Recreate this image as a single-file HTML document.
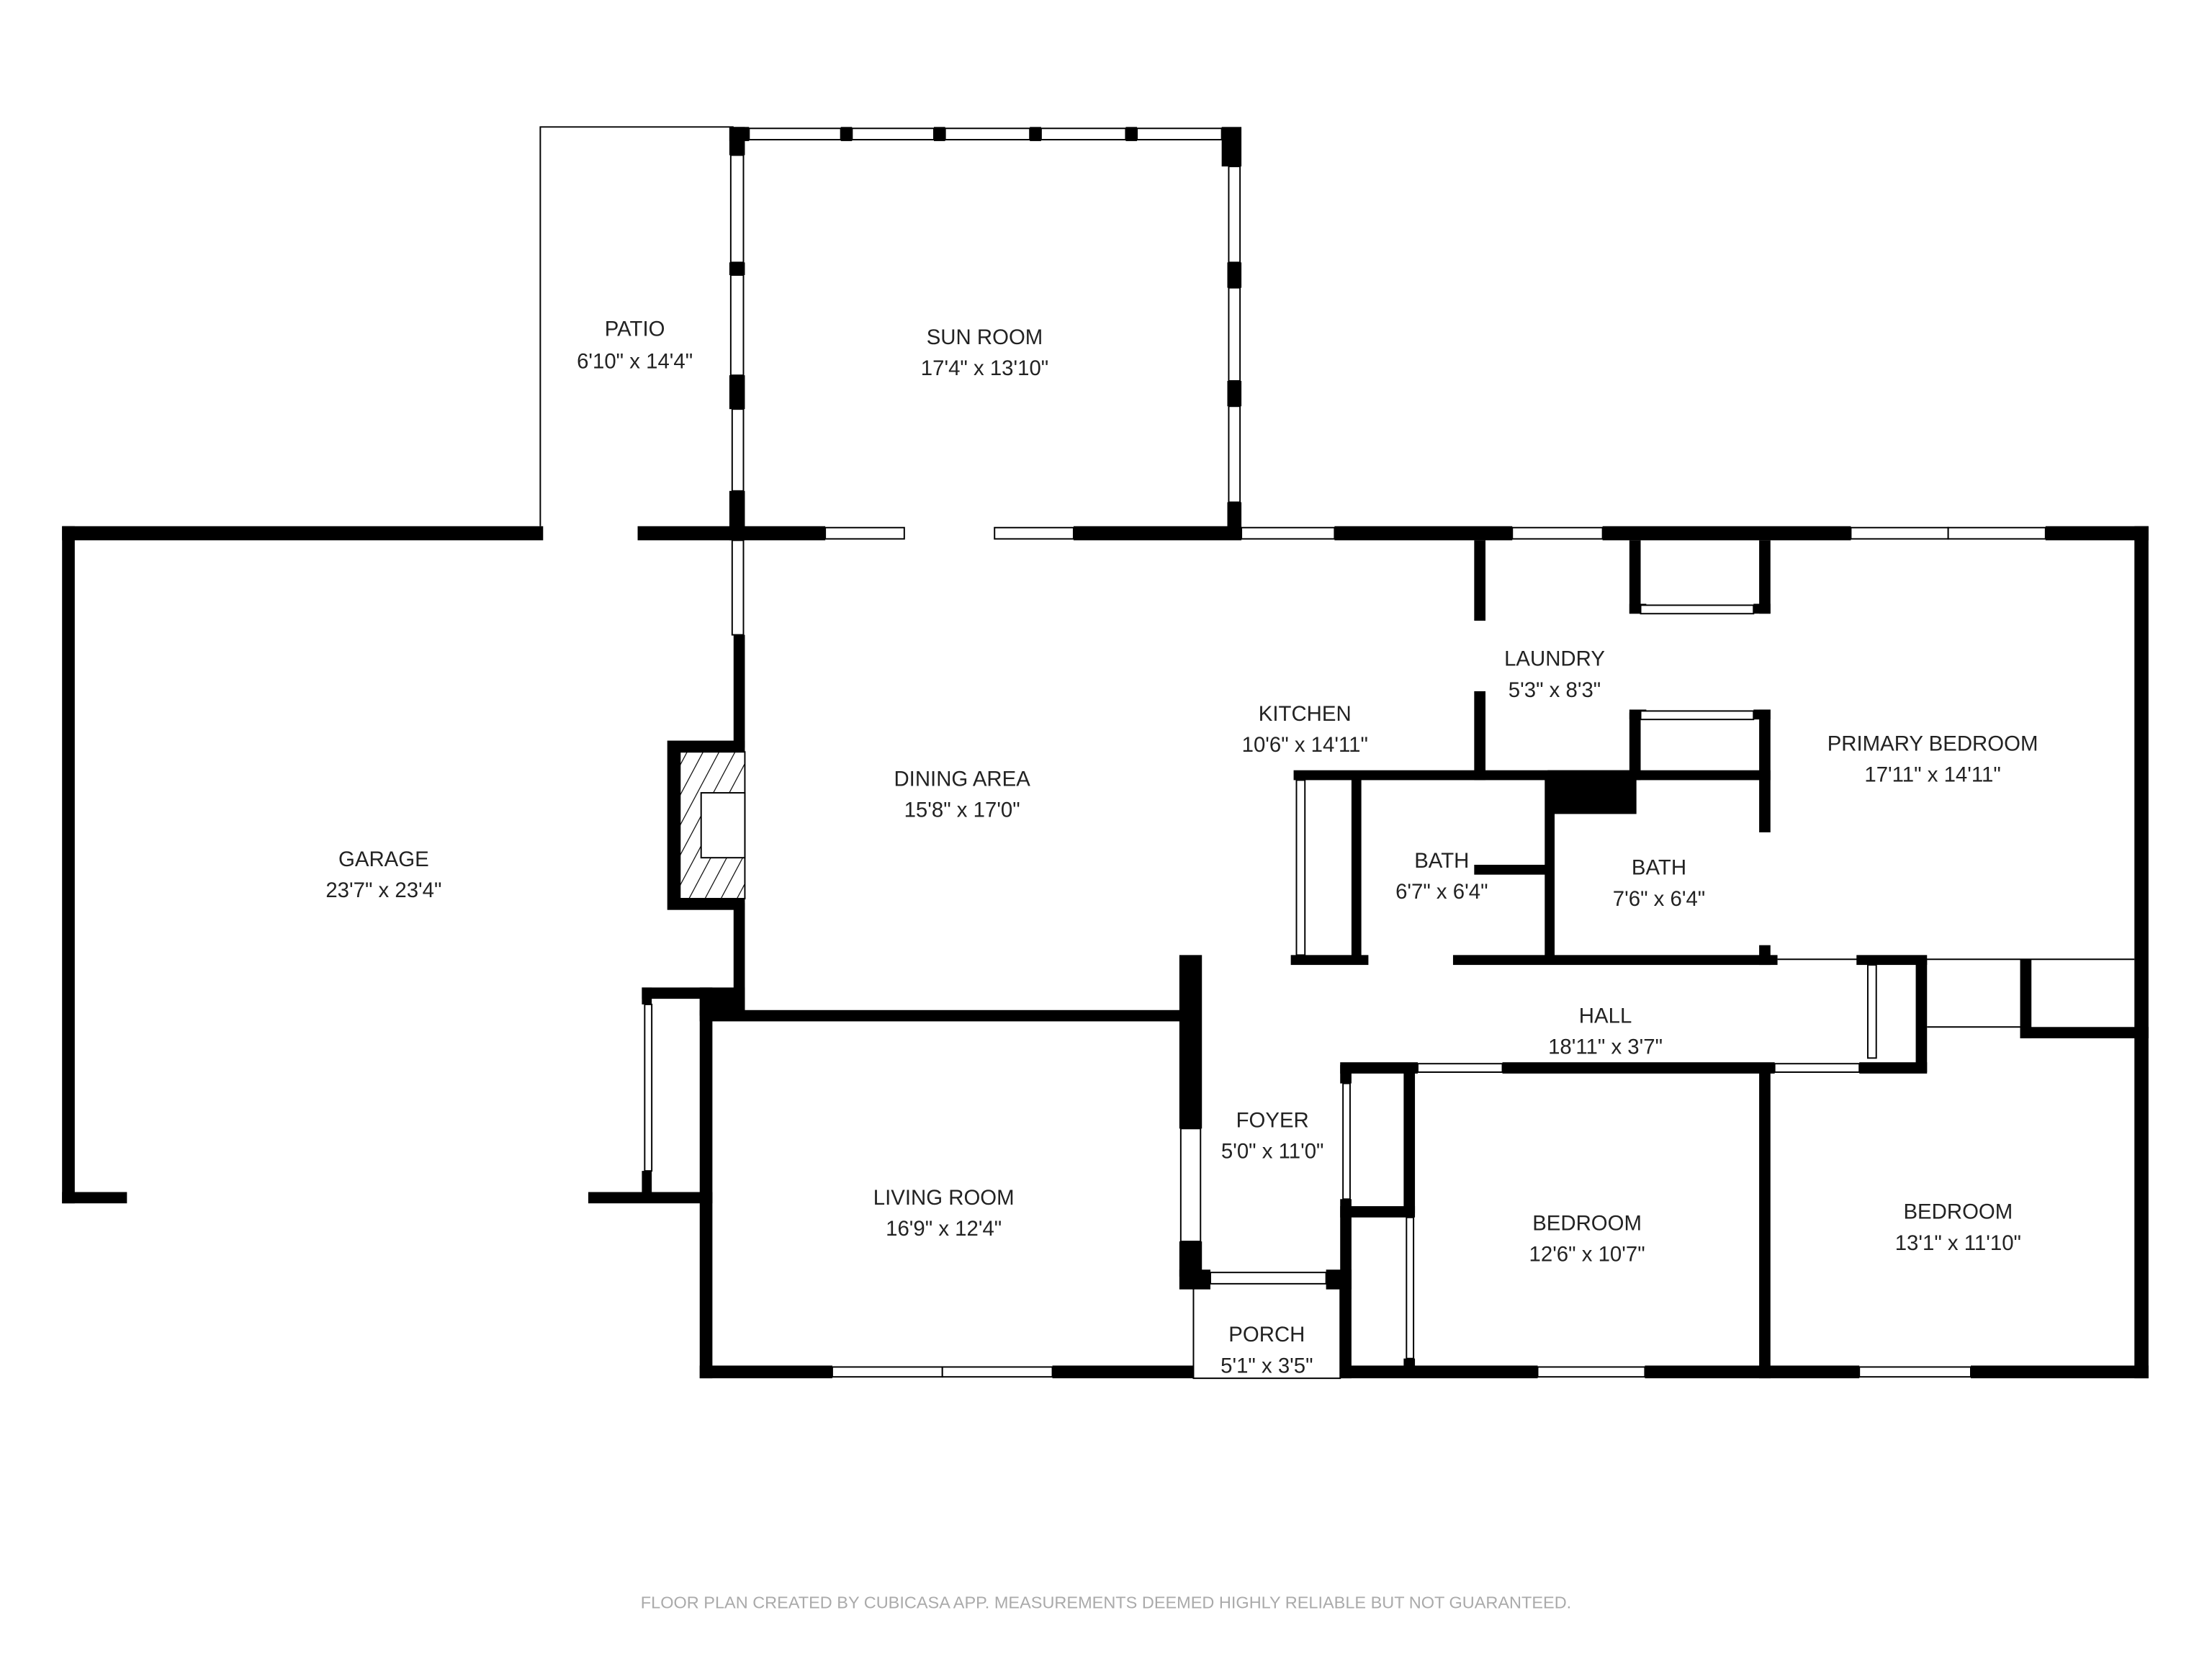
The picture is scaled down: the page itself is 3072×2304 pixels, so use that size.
<!DOCTYPE html>
<html><head><meta charset="utf-8"><style>
html,body{margin:0;padding:0;background:#fff;}
svg{display:block;}
text{font-family:"Liberation Sans",sans-serif;fill:#222;text-anchor:middle;}
</style></head><body>
<svg width="3072" height="2304" viewBox="0 0 1568 1176" xmlns="http://www.w3.org/2000/svg">
<defs>
<pattern id="h" width="10" height="10" patternUnits="userSpaceOnUse" patternTransform="rotate(28)">
<rect width="10" height="10" fill="#fff"/>
<line x1="0" y1="0" x2="0" y2="10" stroke="#000" stroke-width="1.2"/></pattern>
</defs>
<g fill="#000">
<rect x="44" y="373" width="9" height="480"/>
<rect x="44" y="373" width="341" height="10"/>
<rect x="452" y="373" width="76" height="10"/>
<rect x="44" y="845" width="46" height="8"/>
<rect x="417" y="845" width="88" height="8"/>
<rect x="520" y="373" width="65" height="10"/>
<rect x="761" y="373" width="119" height="10"/>
<rect x="946" y="373" width="126" height="10"/>
<rect x="1136" y="373" width="176" height="10"/>
<rect x="1450" y="373" width="73" height="10"/>
<rect x="1513" y="373" width="10" height="604"/>
<rect x="496" y="968" width="94" height="9"/>
<rect x="746" y="968" width="100" height="9"/>
<rect x="950" y="968" width="140" height="9"/>
<rect x="1166" y="968" width="152" height="9"/>
<rect x="1397" y="968" width="126" height="9"/>
<rect x="517" y="90" width="11" height="20"/>
<rect x="517" y="186" width="11" height="9"/>
<rect x="517" y="266" width="11" height="24"/>
<rect x="517" y="348" width="11" height="35"/>
<rect x="517" y="90" width="14" height="10"/>
<rect x="596" y="90" width="8" height="10"/><rect x="662" y="90" width="8" height="10"/>
<rect x="730" y="90" width="8" height="10"/><rect x="798" y="90" width="8" height="10"/>
<rect x="866" y="90" width="14" height="28"/>
<rect x="870" y="186" width="10" height="18"/>
<rect x="870" y="270" width="10" height="18"/>
<rect x="870" y="356" width="10" height="20"/>
<rect x="520" y="450" width="8" height="80"/>
<rect x="473" y="525" width="55" height="120"/>
<rect x="520" y="640" width="8" height="80"/>
<rect x="496" y="700" width="32" height="20"/>
<rect x="455" y="700" width="50" height="8"/>
<rect x="455" y="700" width="7" height="12"/><rect x="455" y="830" width="7" height="20"/>
<rect x="496" y="700" width="9" height="277"/>
<rect x="496" y="716" width="349" height="8"/>
<rect x="836" y="677" width="16" height="123"/>
<rect x="836" y="880" width="16" height="25"/>
<rect x="836" y="900" width="22" height="14"/>
<rect x="940" y="900" width="18" height="14"/>
<rect x="950" y="755" width="8" height="13"/>
<rect x="950" y="850" width="8" height="127"/>
<rect x="950" y="855" width="53" height="8"/>
<rect x="995" y="757" width="8" height="103"/>
<rect x="995" y="963" width="8" height="10"/>
<rect x="1045" y="383" width="8" height="57"/>
<rect x="1045" y="490" width="8" height="63"/>
<rect x="1155" y="383" width="8" height="52"/>
<rect x="1155" y="505" width="8" height="48"/>
<rect x="1247" y="383" width="8" height="52"/>
<rect x="1155" y="428" width="12" height="7"/><rect x="1243" y="428" width="12" height="7"/>
<rect x="1155" y="503" width="12" height="7"/><rect x="1243" y="503" width="12" height="7"/>
<rect x="1247" y="503" width="8" height="87"/>
<rect x="1247" y="670" width="8" height="14"/>
<rect x="917" y="546" width="338" height="7"/>
<rect x="1097" y="546" width="63" height="31"/>
<rect x="958" y="550" width="7" height="130"/>
<rect x="1095" y="550" width="7" height="130"/>
<rect x="1045" y="613" width="52" height="7"/>
<rect x="915" y="677" width="55" height="7"/>
<rect x="1030" y="677" width="230" height="7"/>
<rect x="1316" y="677" width="50" height="7"/>
<rect x="1358" y="680" width="8" height="80"/>
<rect x="1432" y="680" width="8" height="56"/>
<rect x="1432" y="728" width="91" height="8"/>
<rect x="950" y="753" width="55" height="8"/>
<rect x="1065" y="753" width="193" height="8"/>
<rect x="1318" y="753" width="48" height="8"/>
<rect x="1247" y="757" width="8" height="220"/>
</g>
<rect x="482" y="533" width="46" height="104" fill="url(#h)" stroke="#000" stroke-width="1"/>
<rect x="497" y="562" width="31" height="46" fill="#fff" stroke="#000" stroke-width="1"/>
<g fill="#fff" stroke="#000" stroke-width="1">
<path d="M383 373V90H520" fill="none"/>
<rect x="531" y="91" width="65" height="8"/><rect x="604" y="91" width="58" height="8"/>
<rect x="670" y="91" width="60" height="8"/><rect x="738" y="91" width="60" height="8"/><rect x="806" y="91" width="60" height="8"/>
<rect x="518" y="110" width="9" height="76"/><rect x="518" y="195" width="9" height="71"/>
<rect x="871" y="118" width="8" height="68"/><rect x="871" y="204" width="8" height="66"/><rect x="871" y="288" width="8" height="68"/>
<rect x="585" y="374" width="56" height="8"/><rect x="705" y="374" width="56" height="8"/>
<rect x="880" y="374" width="66" height="8"/><rect x="1072" y="374" width="64" height="8"/>
<rect x="1312" y="374" width="69" height="8"/><rect x="1381" y="374" width="69" height="8"/>
<rect x="590" y="969" width="78" height="7"/><rect x="668" y="969" width="78" height="7"/>
<rect x="1090" y="969" width="76" height="7"/><rect x="1318" y="969" width="79" height="7"/>
<rect x="457" y="712" width="5" height="118"/>
<rect x="1163" y="429" width="80" height="6"/><rect x="1163" y="504" width="80" height="6"/>
<rect x="919" y="553" width="6" height="124"/>
<rect x="858" y="902" width="82" height="8"/>
<rect x="1005" y="754" width="60" height="6"/><rect x="1258" y="754" width="60" height="6"/>
<rect x="1324" y="684" width="6" height="66"/>
<rect x="997" y="863" width="5" height="100"/>
<rect x="952" y="768" width="5" height="82"/>
<rect x="837" y="800" width="14" height="80"/>
<rect x="519" y="290" width="8" height="58"/>
<rect x="519" y="383" width="8" height="67"/>
<path d="M846 913V977H950V913" fill="none"/>
<path d="M1260 680H1513" fill="none"/>
<path d="M1366 728H1432" fill="none"/>
</g>
<g font-size="15">
<text x="450" y="238">PATIO</text><text x="450" y="261">6'10" x 14'4"</text>
<text x="698" y="244">SUN ROOM</text><text x="698" y="266">17'4" x 13'10"</text>
<text x="272" y="614">GARAGE</text><text x="272" y="636">23'7" x 23'4"</text>
<text x="682" y="557">DINING AREA</text><text x="682" y="579">15'8" x 17'0"</text>
<text x="925" y="511">KITCHEN</text><text x="925" y="533">10'6" x 14'11"</text>
<text x="1102" y="472">LAUNDRY</text><text x="1102" y="494">5'3" x 8'3"</text>
<text x="1370" y="532">PRIMARY BEDROOM</text><text x="1370" y="554">17'11" x 14'11"</text>
<text x="1022" y="615">BATH</text><text x="1022" y="637">6'7" x 6'4"</text>
<text x="1176" y="620">BATH</text><text x="1176" y="642">7'6" x 6'4"</text>
<text x="1138" y="725">HALL</text><text x="1138" y="747">18'11" x 3'7"</text>
<text x="902" y="799">FOYER</text><text x="902" y="821">5'0" x 11'0"</text>
<text x="669" y="854">LIVING ROOM</text><text x="669" y="876">16'9" x 12'4"</text>
<text x="1125" y="872">BEDROOM</text><text x="1125" y="894">12'6" x 10'7"</text>
<text x="1388" y="864">BEDROOM</text><text x="1388" y="886">13'1" x 11'10"</text>
<text x="898" y="951">PORCH</text><text x="898" y="973">5'1" x 3'5"</text>
</g>
<text x="784" y="1140" font-size="12" style="fill:#aaa">FLOOR PLAN CREATED BY CUBICASA APP. MEASUREMENTS DEEMED HIGHLY RELIABLE BUT NOT GUARANTEED.</text>
</svg>
</body></html>
